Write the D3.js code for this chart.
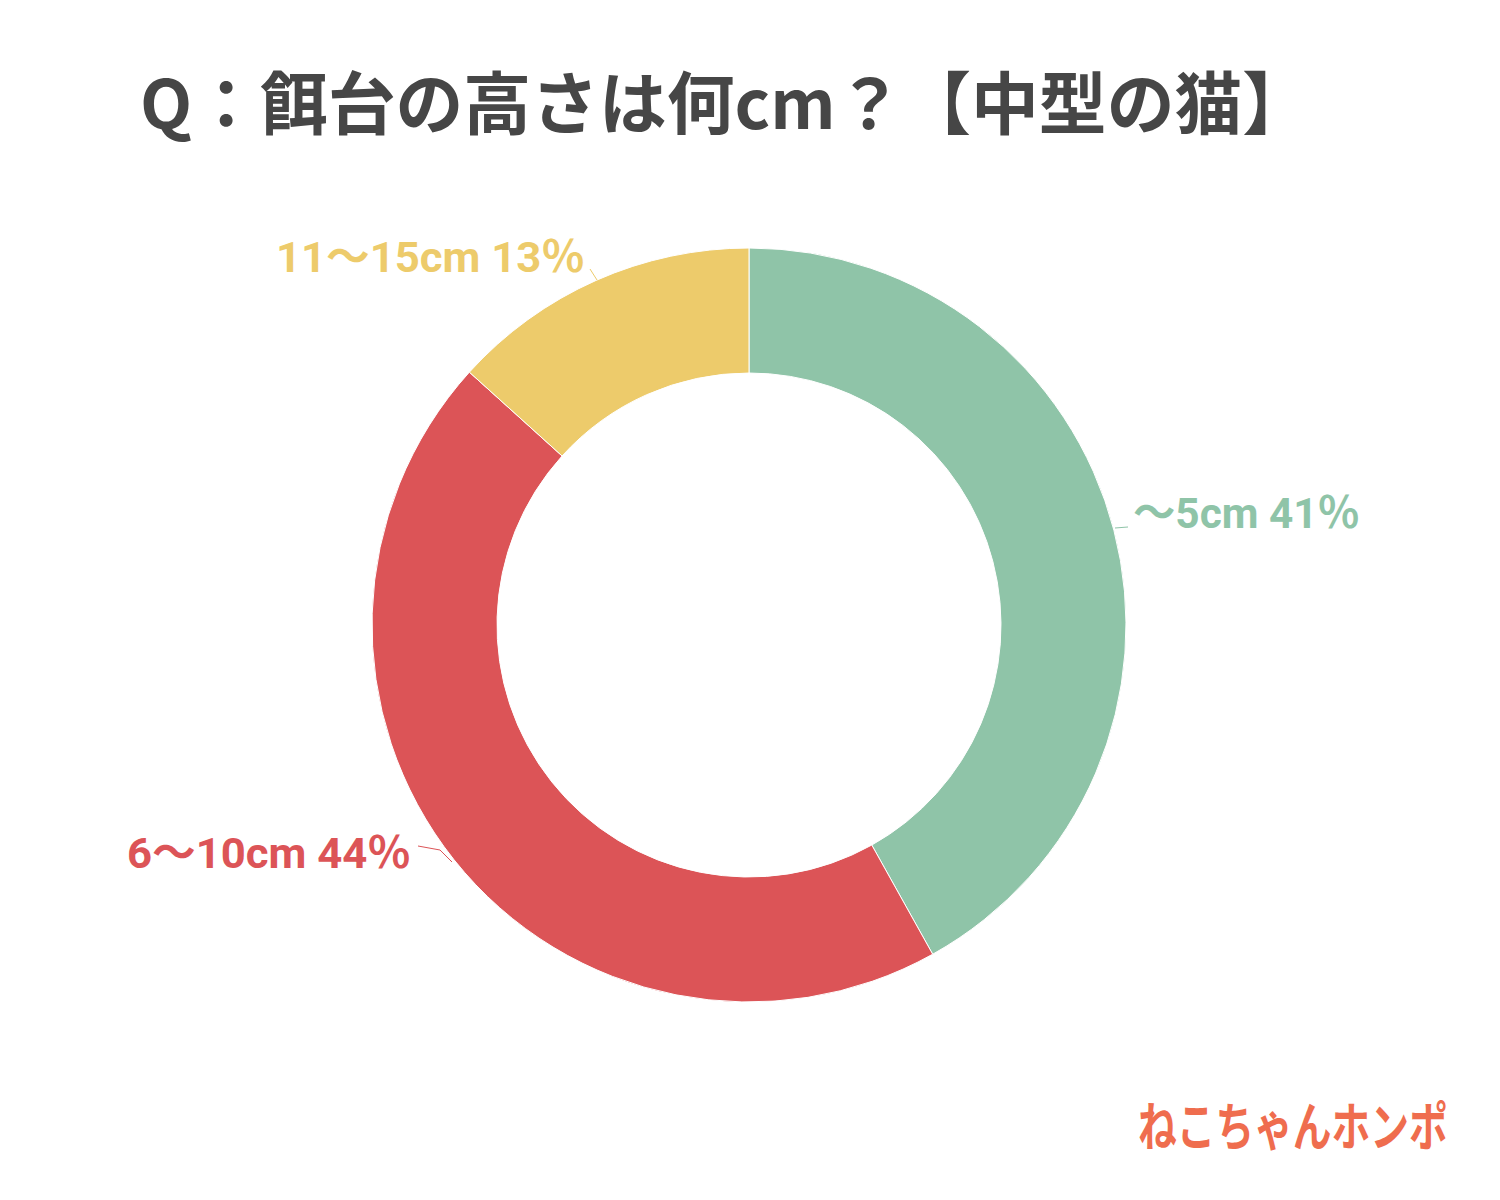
<!DOCTYPE html>
<html><head><meta charset="utf-8">
<script src="https://cdn.jsdelivr.net/npm/d3@7"></script>
<style>body{margin:0;background:#fff}</style>
</head><body>
<svg id="c" width="1500" height="1200"></svg>
<script>
const categories = ["～5cm", "6～10cm", "11～15cm"];
const values = [41.9, 44.8, 13.3];
const percentLabels = ["41％", "44％", "13％"];
const colors = ["#8FC4A8", "#DC5457", "#EDCB6B"];
const titleText = "Q：餌台の高さは何cm？【中型の猫】";
const logoText = "ねこちゃんホンポ";

const svg = d3.select("#c");
svg.append("rect").attr("width",1500).attr("height",1200).attr("fill","#fff");

svg.append("text").attr("x",140).attr("y",129)
  .attr("font-family","'Noto Sans CJK JP', sans-serif").attr("font-weight",700)
  .attr("font-size",68).attr("fill","#464646").attr("textLength",1170).attr("lengthAdjust","spacingAndGlyphs")
  .text(titleText);

const cx=749, cy=625, R=377, r=252;
const g = svg.append("g").attr("transform",`translate(${cx},${cy})`);
const pie = d3.pie().sort(null).value(d=>d)(values);
const arc = d3.arc().innerRadius(r).outerRadius(R);
g.selectAll("path").data(pie).join("path")
  .attr("d",arc).attr("fill",(d,i)=>colors[i])
  .attr("stroke","#fff").attr("stroke-width",1);

const labelPos = [
  {x:1133, y:528, w:227, line:[[1115,528],[1128,527]]},
  {x:127, y:868, w:284, line:[[418,846],[440,850],[452,862]]},
  {x:276, y:272, w:309, line:[[590,269],[597,280]]}
];
pie.forEach((d,i)=>{
  const p = labelPos[i];
  svg.append("path").attr("d",d3.line()(p.line)).attr("fill","none")
    .attr("stroke",colors[i]).attr("stroke-width",1);
  svg.append("text").attr("x",p.x).attr("y",p.y)
    .attr("font-family","Roboto, 'Noto Sans CJK JP', sans-serif").attr("font-weight",700)
    .attr("font-size",43).attr("fill",colors[i])
    .attr("textLength",p.w).attr("lengthAdjust","spacingAndGlyphs")
    .text(categories[i]+" "+percentLabels[i]);
});

svg.append("text").attr("x",1138).attr("y",1146)
  .attr("font-family","'Noto Sans CJK JP', sans-serif").attr("font-weight",700)
  .attr("font-size",44).attr("fill","#EF6D4E")
  .attr("transform","translate(1138,1146) scale(0.88,1.18) translate(-1138,-1146)")
  .text(logoText);
</script>
</body></html>
